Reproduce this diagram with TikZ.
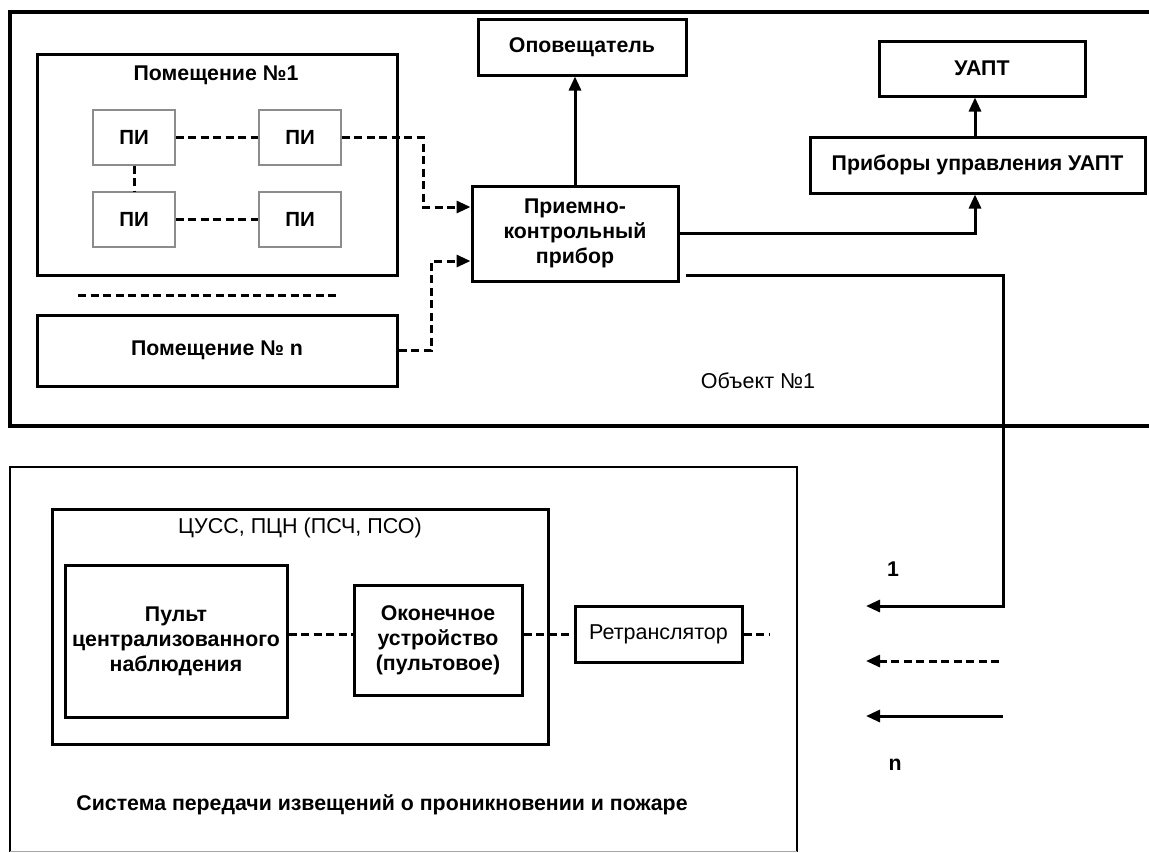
\documentclass[tikz,border=0pt]{standalone}
\usepackage{fontspec}
\setmainfont{Liberation Sans}
\usetikzlibrary{arrows.meta}

\begin{document}
\begin{tikzpicture}[x=1pt, y=-1pt,
  txt/.style={font=\bfseries\fontsize{21.3}{25}\selectfont, align=center, inner sep=0pt},
  plain/.style={font=\fontsize{21.5}{25}\selectfont, align=center, inner sep=0pt},
  box/.style={txt, draw, line width=3pt},
  sensor/.style={txt, font=\bfseries\fontsize{20.5}{25}\selectfont, draw=black!45, line width=1.2pt, minimum width=82pt, minimum height=55pt},
  frame/.style={line width=3.2pt},
  link/.style={line width=3pt},
  dashlink/.style={line width=3pt, dash pattern=on 8pt off 4.5pt},
  tip/.style={-{Triangle[length=14pt,width=12pt]}}
]
\useasboundingbox (0,0) rectangle (1149,852);
\fill[white] (0,0) rectangle (1149,852);

% ---- protected object ----
\draw[frame] (1149,12) -- (10,12) -- (10,426) -- (1149,426);
\node[plain] (obj) at (758,381) {Объект №1};

% room 1 with its detectors
\node[draw, line width=3pt, minimum width=360pt, minimum height=221pt, inner sep=0pt] (room1) at (217,164.5) {};
\node[txt] (room1t) at (216,75) {Помещение №1};
\node[sensor] (pi1) at (134,137.5) {ПИ};
\node[sensor] (pi2) at (300,137.5) {ПИ};
\node[sensor] (pi3) at (134,219.5) {ПИ};
\node[sensor] (pi4) at (300,219.5) {ПИ};
\draw[dashlink] (pi1) -- (pi2);
\draw[dashlink] (pi3) -- (pi4);
\draw[dashlink] (pi1) -- (pi3);

% further rooms
\coordinate (sepA) at (78,295);
\coordinate (sepB) at (338,295);
\draw[dashlink] (sepA) -- (sepB);
\node[box, minimum width=360pt, minimum height=71pt] (roomn) at (217,350.5) {Помещение № n};

% control panel and outputs
\node[box, minimum width=206pt, minimum height=95pt] (pkp) at (575,233.5) {Приемно-\\контрольный\\прибор};
\node[box, minimum width=208pt, minimum height=56pt] (opov) at (582,47) {Оповещатель};
\node[box, minimum width=335pt, minimum height=56pt] (pribory) at (977.5,165) {Приборы управления УАПТ};
\node[box, minimum width=206pt, minimum height=55pt] (uapt) at (982,68.5) {УАПТ};

\coordinate (in1) at (0,207);
\coordinate (in2) at (0,261);
\draw[dashlink, tip] (pi2.east) -- (423,137.5) -- (423,207) -- (pkp.west |- in1);
\draw[dashlink, tip] (roomn.east) -- (431,350.5) -- (431,261) -- (pkp.west |- in2);
\draw[link, tip] (pkp.north) -- (pkp.north |- opov.south);
\coordinate (col) at (975,0);
\draw[link, tip] (pkp.east) -- (col |- pkp.east) -- (col |- pribory.south);
\draw[link, tip] (col |- pribory.north) -- (col |- uapt.south);

% line to the monitoring system
\coordinate (l1s) at (686,275);
\coordinate (l1e) at (866,606);
\draw[link, tip] (l1s) -- (1003,275) -- (1003,606) -- (l1e);
\node[txt] (n1) at (893,569) {1};
\coordinate (l2s) at (999,661);
\coordinate (l2e) at (866,661);
\draw[dashlink, tip] (l2s) -- (l2e);
\coordinate (l3s) at (1003,716);
\coordinate (l3e) at (866,716);
\draw[link, tip] (l3s) -- (l3e);
\node[txt] (nn) at (895,765) {n};

% ---- notification transmission system ----
\draw[line width=2.4pt] (10,852) -- (10,467) -- (797,467) -- (797,852);
\draw[black!35, line width=1pt] (10,851) -- (797,851);
\node[draw, line width=3pt, minimum width=496pt, minimum height=235pt, inner sep=0pt] (cuss) at (300,626.5) {};
\node[plain] (cusst) at (300,528) {ЦУСС, ПЦН (ПСЧ, ПСО)};
\node[box, minimum width=222pt, minimum height=152pt] (pult) at (176,641) {Пульт\\централизованного\\наблюдения};
\node[box, minimum width=168pt, minimum height=110pt] (okon) at (438,640) {Оконечное\\устройство\\(пультовое)};
\node[box, font=\fontsize{21.5}{25}\selectfont, minimum width=167pt, minimum height=56pt] (ret) at (658.5,634) {Ретранслятор};
\coordinate (retout) at (770,634);
\draw[dashlink] (pult.east |- ret.west) -- (okon.west |- ret.west);
\draw[dashlink] (okon.east |- ret.west) -- (ret.west);
\draw[dashlink] (ret.east) -- (retout);
\node[txt] (sys) at (382,805) {Система передачи извещений о проникновении и пожаре};
\end{tikzpicture}
\end{document}
